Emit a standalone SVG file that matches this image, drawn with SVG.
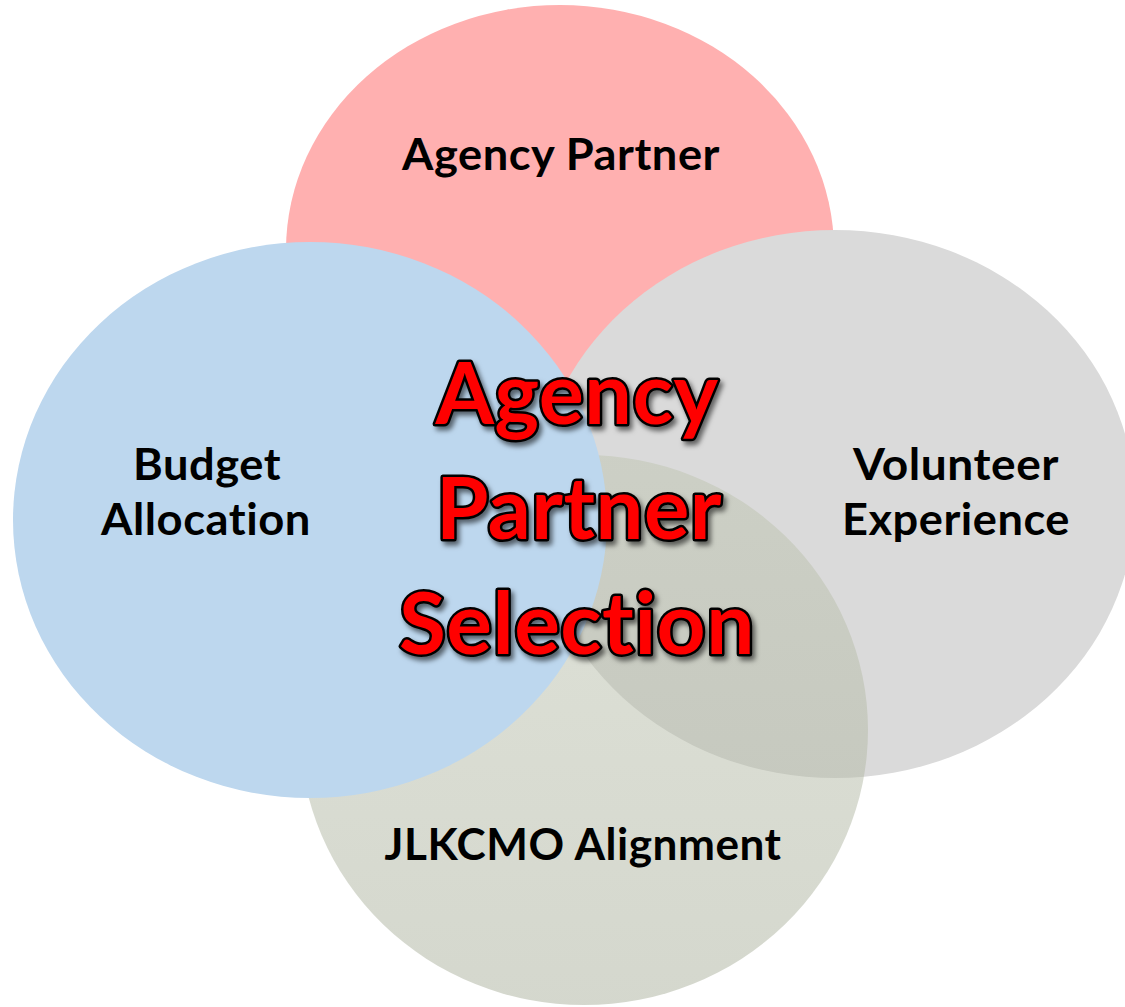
<svg xmlns="http://www.w3.org/2000/svg" width="1125" height="1007" viewBox="0 0 1125 1007">
  <defs>
    <linearGradient id="oliveGrad" gradientUnits="userSpaceOnUse" x1="0" y1="455" x2="0" y2="1005">
      <stop offset="0" stop-color="#BFC5B1"/>
      <stop offset="1" stop-color="#AAB09C"/>
    </linearGradient>
    <filter id="shadow" x="-10%" y="-20%" width="130%" height="150%">
      <feDropShadow dx="3" dy="4" stdDeviation="2.5" flood-color="#000000" flood-opacity="0.55"/>
    </filter>
  </defs>
  <style>
    text { font-variant-ligatures: none; font-feature-settings: "liga" 0, "clig" 0, "dlig" 0; letter-spacing: 0.5px; }
    .label { font-family: "Lato", "Open Sans", "Liberation Sans", sans-serif; font-weight: bold; font-size: 43px; fill: #000000; text-anchor: middle; }
    .title { font-family: "Lato", "Open Sans", "Liberation Sans", sans-serif; font-weight: bold; font-size: 86px; fill: #FF0000; stroke: #000000; stroke-width: 5px; stroke-linejoin: round; paint-order: stroke; text-anchor: middle; }
  </style>
  <rect x="0" y="0" width="1125" height="1007" fill="#FFFFFF"/>

  <g id="node-agency-partner">
    <ellipse cx="560" cy="250" rx="274" ry="245" fill="#FFB0B0"/>
    <text class="label" x="561" y="170" textLength="318" lengthAdjust="spacingAndGlyphs">Agency Partner</text>
  </g>

  <g id="node-volunteer-experience">
    <ellipse cx="835" cy="504" rx="300" ry="274" fill="#DADADA"/>
    <text class="label" x="956" y="480" textLength="206" lengthAdjust="spacingAndGlyphs">Volunteer</text>
    <text class="label" x="956" y="535" textLength="228" lengthAdjust="spacingAndGlyphs">Experience</text>
  </g>

  <g id="node-jlkcmo-alignment">
    <ellipse cx="584" cy="730" rx="284" ry="275" fill="url(#oliveGrad)" fill-opacity="0.5"/>
    <text class="label" x="583" y="860" textLength="397" lengthAdjust="spacingAndGlyphs">JLKCMO Alignment</text>
  </g>

  <g id="node-budget-allocation">
    <ellipse cx="310" cy="520" rx="297" ry="278" fill="#BDD7EE"/>
    <text class="label" x="207" y="480" textLength="148" lengthAdjust="spacingAndGlyphs">Budget</text>
    <text class="label" x="206" y="535" textLength="210" lengthAdjust="spacingAndGlyphs">Allocation</text>
  </g>

  <g id="node-center-title" filter="url(#shadow)">
    <text class="title" x="577" y="424" textLength="283" lengthAdjust="spacingAndGlyphs">Agency</text>
    <text class="title" x="579" y="539" textLength="286" lengthAdjust="spacingAndGlyphs">Partner</text>
    <text class="title" x="577" y="654" textLength="356" lengthAdjust="spacingAndGlyphs">Selection</text>
  </g>

  <g id="connectors"></g>
</svg>
